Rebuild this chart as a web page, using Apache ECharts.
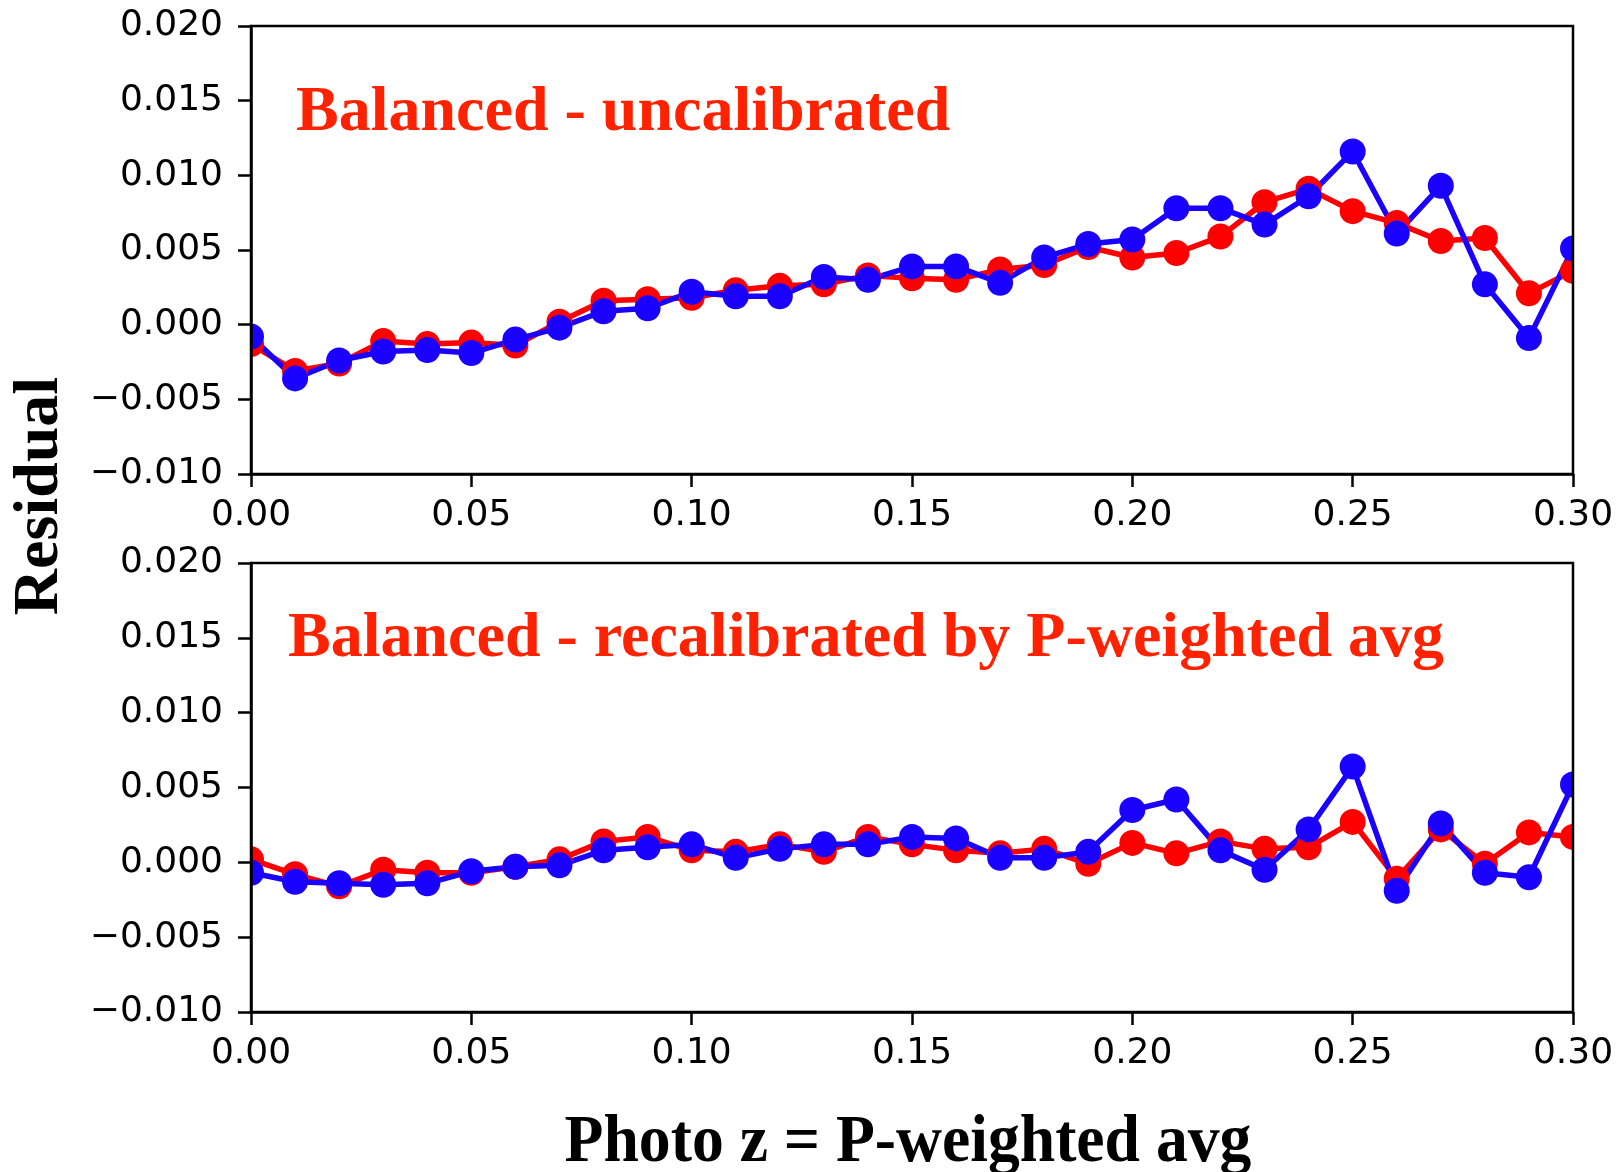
<!DOCTYPE html>
<html>
<head>
<meta charset="utf-8">
<script src="https://cdn.jsdelivr.net/npm/echarts@6/dist/echarts.min.js"></script>
<style>
  html, body { margin: 0; padding: 0; background: #fff; }
  #chart { width: 1617px; height: 1172px; }
</style>
</head>
<body>
<div id="chart"></div>
<script>
// ---- data ----
const photoZ = [0.00, 0.01, 0.02, 0.03, 0.04, 0.05, 0.06, 0.07, 0.08, 0.09,
                0.10, 0.11, 0.12, 0.13, 0.14, 0.15, 0.16, 0.17, 0.18, 0.19,
                0.20, 0.21, 0.22, 0.23, 0.24, 0.25, 0.26, 0.27, 0.28, 0.29, 0.30];

const topRed = [-0.0013, -0.0031, -0.0026, -0.0011, -0.0013, -0.0012, -0.0014, 0.0002, 0.0016, 0.0017,
                 0.0018,  0.0023,  0.0026,  0.0027,  0.0033,  0.0031,  0.0030, 0.0037, 0.0040, 0.0052,
                 0.0045,  0.0048,  0.0059,  0.0082,  0.0091,  0.0076,  0.0068, 0.0056, 0.0058, 0.0021, 0.0036];
const topBlue = [-0.0008, -0.0036, -0.0024, -0.0018, -0.0017, -0.0019, -0.0010, -0.0002, 0.0009, 0.0011,
                  0.0022,  0.0019,  0.0019,  0.0032,  0.0030,  0.0039,  0.0039,  0.0028, 0.0045, 0.0054,
                  0.0057,  0.0078,  0.0078,  0.0067,  0.0086,  0.0116,  0.0061,  0.0093, 0.0027, -0.0009, 0.0051];

const botRed = [0.0002, -0.0008, -0.0016, -0.0005, -0.0007, -0.0007, -0.0003, 0.0002, 0.0014, 0.0017,
                0.0008,  0.0007,  0.0012,  0.0007,  0.0017,  0.0012,  0.0008, 0.0006, 0.0009, -0.0001,
                0.0013,  0.0006,  0.0014,  0.0009,  0.0010,  0.0027, -0.0011, 0.0022, -0.0001, 0.0020, 0.0017];
const botBlue = [-0.0007, -0.0013, -0.0014, -0.0015, -0.0014, -0.0006, -0.0003, -0.0002, 0.0008, 0.0010,
                  0.0012,  0.0003,  0.0009,  0.0012,  0.0012,  0.0017,  0.0016,  0.0003, 0.0003, 0.0007,
                  0.0035,  0.0042,  0.0008, -0.0005,  0.0022,  0.0064, -0.0019,  0.0026, -0.0007, -0.0010, 0.0052];

const xTicks = { min: 0, max: 0.30, interval: 0.05 };
const yTicks = { min: -0.010, max: 0.020, interval: 0.005 };

const panelTitles = ['Balanced - uncalibrated', 'Balanced - recalibrated by P-weighted avg'];
const yTitle = 'Residual';
const xTitle = 'Photo z = P-weighted avg';

// ---- chart ----
const pair = (xs, ys) => xs.map((x, i) => [x, ys[i]]);
const RED = '#ff0000', BLUE = '#1a00ff', TXTRED = '#ff2200';
const tickFont = 'DejaVu Sans';

const GL = 251, GR = 44, W = 1617;
const G1 = { top: 26, height: 448 };
const G2 = { top: 563, height: 449 };

function xAxisCfg(gi) {
  return {
    gridIndex: gi, type: 'value', min: xTicks.min, max: xTicks.max, interval: xTicks.interval, z: 10,
    axisLine: { show: true, onZero: false, lineStyle: { color: '#000', width: 2.5 } },
    axisTick: { show: true, inside: false, length: 13, lineStyle: { color: '#000', width: 2.5 } },
    axisLabel: { show: true, margin: 24, color: '#000', fontFamily: tickFont, fontSize: 36,
                 showMinLabel: true, showMaxLabel: true, formatter: v => v.toFixed(2) },
    splitLine: { show: false }
  };
}
function yAxisCfg(gi) {
  return {
    gridIndex: gi, type: 'value', min: yTicks.min, max: yTicks.max, interval: yTicks.interval, z: 10,
    axisLine: { show: true, onZero: false, lineStyle: { color: '#000', width: 2.5 } },
    axisTick: { show: true, inside: false, length: 13, lineStyle: { color: '#000', width: 2.5 } },
    axisLabel: { show: true, margin: 28, color: '#000', fontFamily: tickFont, fontSize: 36,
                 formatter: v => (v < 0 ? '\u2212' : '') + Math.abs(v).toFixed(3) },
    splitLine: { show: false }
  };
}
function lineSeries(gi, ys, color) {
  return {
    type: 'line', xAxisIndex: gi, yAxisIndex: gi, data: pair(photoZ, ys), z: 2,
    symbol: 'circle', symbolSize: 26, showSymbol: true,
    lineStyle: { color: color, width: 5.5 }, itemStyle: { color: color },
    clip: true, animation: false
  };
}
// white masks outside the plotting area so edge markers are clipped like the axes box
function masks(g) {
  return [
    { type: 'rect', z: 5, silent: true, shape: { x: GL - 30, y: g.top - 20, width: 30, height: g.height + 40 }, style: { fill: '#fff' } },
    { type: 'rect', z: 5, silent: true, shape: { x: W - GR, y: g.top - 20, width: 30, height: g.height + 40 }, style: { fill: '#fff' } }
  ];
}

const chart = echarts.init(document.getElementById('chart'), null, { renderer: 'canvas' });
chart.setOption({
  animation: false,
  backgroundColor: '#fff',
  grid: [
    { left: GL, right: GR, top: G1.top, height: G1.height, z: 10, show: true, borderColor: '#000', borderWidth: 2.5, backgroundColor: 'transparent' },
    { left: GL, right: GR, top: G2.top, height: G2.height, z: 10, show: true, borderColor: '#000', borderWidth: 2.5, backgroundColor: 'transparent' }
  ],
  xAxis: [xAxisCfg(0), xAxisCfg(1)],
  yAxis: [yAxisCfg(0), yAxisCfg(1)],
  series: [
    lineSeries(0, topRed, RED),
    lineSeries(0, topBlue, BLUE),
    lineSeries(1, botRed, RED),
    lineSeries(1, botBlue, BLUE)
  ],
  graphic: [
    ...masks(G1), ...masks(G2),
    { type: 'text', x: 296, y: 113, z: 100,
      style: { text: panelTitles[0], font: 'bold 64px "Liberation Serif"', fill: TXTRED,
               textAlign: 'left', align: 'left', textVerticalAlign: 'middle', verticalAlign: 'middle' } },
    { type: 'text', x: 288, y: 639, z: 100,
      style: { text: panelTitles[1], font: 'bold 64px "Liberation Serif"', fill: TXTRED,
               textAlign: 'left', align: 'left', textVerticalAlign: 'middle', verticalAlign: 'middle' } },
    { type: 'text', x: 40, y: 496, rotation: Math.PI / 2, z: 100,
      style: { text: yTitle, font: 'bold 64px "Liberation Serif"', fill: '#000',
               textAlign: 'center', align: 'center', textVerticalAlign: 'middle', verticalAlign: 'middle' } },
    { type: 'text', x: 908, y: 1144, scaleX: 0.95, z: 100,
      style: { text: xTitle, font: 'bold 67px "Liberation Serif"', fill: '#000',
               textAlign: 'center', align: 'center', textVerticalAlign: 'middle', verticalAlign: 'middle' } }
  ]
});
</script>
</body>
</html>
